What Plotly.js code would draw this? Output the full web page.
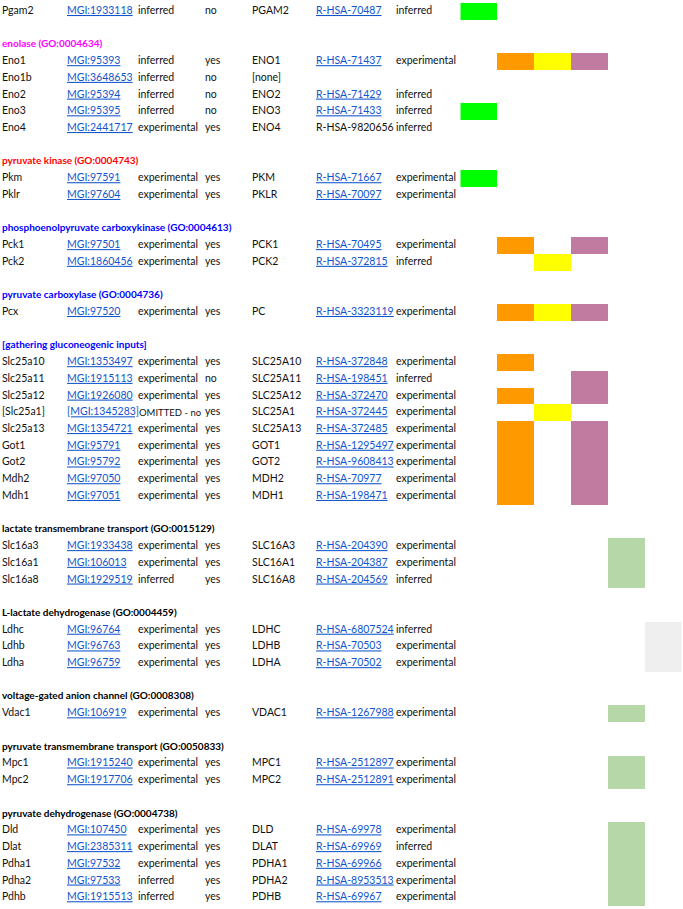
<!DOCTYPE html>
<html><head><meta charset="utf-8">
<script src="https://cdn.plot.ly/plotly-3.0.1.min.js"></script>
<style>html,body{margin:0;padding:0;background:#fff;}#chart{width:683px;height:909px;}</style>
</head><body><div id="chart"></div><script>
// ---------- data ----------
const sectionTitles = [
  '',
  'enolase (GO:0004634)',
  'pyruvate kinase (GO:0004743)',
  'phosphoenolpyruvate carboxykinase (GO:0004613)',
  'pyruvate carboxylase (GO:0004736)',
  '[gathering gluconeogenic inputs]',
  'lactate transmembrane transport (GO:0015129)',
  'L-lactate dehydrogenase (GO:0004459)',
  'voltage-gated anion channel (GO:0008308)',
  'pyruvate transmembrane transport (GO:0050833)',
  'pyruvate dehydrogenase (GO:0004738)'
];
const sectionColors = ['#000000','#FF00FF','#FF0000','#0000FF','#0000FF','#0000FF','#000000','#000000','#000000','#000000','#000000'];
const geneSection = [0,1,1,1,1,1,2,2,3,3,4,5,5,5,5,5,5,5,5,5,6,6,6,7,7,7,8,9,9,10,10,10,10,10];
const mouseGenes = ['Pgam2','Eno1','Eno1b','Eno2','Eno3','Eno4','Pkm','Pklr','Pck1','Pck2','Pcx',
  'Slc25a10','Slc25a11','Slc25a12','[Slc25a1]','Slc25a13','Got1','Got2','Mdh2','Mdh1',
  'Slc16a3','Slc16a1','Slc16a8','Ldhc','Ldhb','Ldha','Vdac1','Mpc1','Mpc2','Dld','Dlat','Pdha1','Pdha2','Pdhb'];
const mgiIds = ['MGI:1933118','MGI:95393','MGI:3648653','MGI:95394','MGI:95395','MGI:2441717','MGI:97591','MGI:97604','MGI:97501','MGI:1860456','MGI:97520',
  'MGI:1353497','MGI:1915113','MGI:1926080','[MGI:1345283]','MGI:1354721','MGI:95791','MGI:95792','MGI:97050','MGI:97051',
  'MGI:1933438','MGI:106013','MGI:1929519','MGI:96764','MGI:96763','MGI:96759','MGI:106919','MGI:1915240','MGI:1917706','MGI:107450','MGI:2385311','MGI:97532','MGI:97533','MGI:1915513'];
const mouseEvidence = ['inferred','inferred','inferred','inferred','inferred','experimental','experimental','experimental','experimental','experimental','experimental',
  'experimental','experimental','experimental','OMITTED - no e','experimental','experimental','experimental','experimental','experimental',
  'experimental','experimental','inferred','experimental','experimental','experimental','experimental','experimental','experimental','experimental','experimental','experimental','inferred','inferred'];
const orthologous = ['no','yes','no','no','no','yes','yes','yes','yes','yes','yes',
  'yes','no','yes','yes','yes','yes','yes','yes','yes',
  'yes','yes','yes','yes','yes','yes','yes','yes','yes','yes','yes','yes','yes','yes'];
const humanGenes = ['PGAM2','ENO1','[none]','ENO2','ENO3','ENO4','PKM','PKLR','PCK1','PCK2','PC',
  'SLC25A10','SLC25A11','SLC25A12','SLC25A1','SLC25A13','GOT1','GOT2','MDH2','MDH1',
  'SLC16A3','SLC16A1','SLC16A8','LDHC','LDHB','LDHA','VDAC1','MPC1','MPC2','DLD','DLAT','PDHA1','PDHA2','PDHB'];
const reactomeIds = ['R-HSA-70487','R-HSA-71437','','R-HSA-71429','R-HSA-71433','R-HSA-9820656','R-HSA-71667','R-HSA-70097','R-HSA-70495','R-HSA-372815','R-HSA-3323119',
  'R-HSA-372848','R-HSA-198451','R-HSA-372470','R-HSA-372445','R-HSA-372485','R-HSA-1295497','R-HSA-9608413','R-HSA-70977','R-HSA-198471',
  'R-HSA-204390','R-HSA-204387','R-HSA-204569','R-HSA-6807524','R-HSA-70503','R-HSA-70502','R-HSA-1267988','R-HSA-2512897','R-HSA-2512891','R-HSA-69978','R-HSA-69969','R-HSA-69966','R-HSA-8953513','R-HSA-69967'];
const reactomeUnlinked = ['R-HSA-9820656'];
const humanEvidence = ['inferred','experimental','','inferred','inferred','inferred','experimental','experimental','experimental','inferred','experimental',
  'experimental','inferred','experimental','experimental','experimental','experimental','experimental','experimental','experimental',
  'experimental','experimental','inferred','inferred','experimental','experimental','experimental','experimental','experimental','experimental','inferred','experimental','experimental','experimental'];
// coloured flag columns (genes marked in each column)
const greenGenes = ['Pgam2','Eno3','Pkm'];
const orangeGenes = ['Eno1','Pck1','Pcx','Slc25a10','Slc25a12','Slc25a13','Got1','Got2','Mdh2','Mdh1'];
const yellowGenes = ['Eno1','Pck2','Pcx','[Slc25a1]'];
const purpleGenes = ['Eno1','Pck1','Pcx','Slc25a11','Slc25a12','Slc25a13','Got1','Got2','Mdh2','Mdh1'];
const lightGreenGenes = ['Slc16a3','Slc16a1','Slc16a8','Vdac1','Mpc1','Mpc2','Dld','Dlat','Pdha1','Pdha2','Pdhb'];
const grayGenes = ['Ldhc','Ldhb','Ldha'];

// ---------- layout constants ----------
const colX = [2, 67, 138, 205, 252, 316, 396];
const flagEdges = [460.5, 497.5, 534.5, 571, 607.5, 644.5, 681.5];
const flagColors = ['#00FF00','#FF9900','#FFFF00','#C27BA0','#B6D7A8','#EFEFEF'];
const linkColor = '#1155CC';
const textColor = '#111111';
const FONT = 'Lato, "Open Sans", sans-serif';
const FSIZE = 10.5;
const HSIZE = 10;

// ---------- row assignment ----------
const geneRow = [];
const headerRow = [], headerText = [], headerColor = [];
let r = 0, prev = -1;
geneSection.forEach((s, i) => {
  if (s !== prev) {
    if (i > 0) r += 1; // blank spacer
    if (sectionTitles[s]) {
      headerRow.push(r); headerText.push(sectionTitles[s]); headerColor.push(sectionColors[s]);
      r += 1;
    }
    prev = s;
  }
  geneRow.push(r);
  r += 1;
});
const nRows = r;

const traces = [];
// flag heatmap
const flagLists = [greenGenes, orangeGenes, yellowGenes, purpleGenes, lightGreenGenes, grayGenes];
const z = [];
for (let k = 0; k < nRows; k++) z.push(new Array(flagLists.length).fill(null));
mouseGenes.forEach((g, i) => {
  flagLists.forEach((lst, c) => { if (lst.includes(g)) z[geneRow[i]][c] = c; });
});
const yRows = Array.from({length: nRows}, (_, k) => k);
const cs = [];
flagColors.forEach((col, c) => {
  cs.push([c / flagColors.length, col]);
  cs.push([(c + 1) / flagColors.length, col]);
});
traces.push({
  type: 'heatmap', x: flagEdges, y: yRows, z: z,
  zmin: -0.5, zmax: flagColors.length - 0.5, colorscale: cs,
  showscale: false, hoverinfo: 'skip', xgap: 0, ygap: 0
});

function textTrace(x, ys, texts, colors, weight, size) {
  return {
    type: 'scatter', mode: 'text', x: ys.map(() => x), y: ys, text: texts,
    textposition: 'middle right', cliponaxis: false, hoverinfo: 'skip',
    textfont: {family: FONT, size: size || FSIZE, color: colors, weight: weight || 'normal'}
  };
}
const u = s => s ? '<u>' + s + '</u>' : '';
const fitsCell = s => s.length <= 12;
traces.push(textTrace(colX[0], headerRow, headerText, headerColor, 'bold', HSIZE));
traces.push(textTrace(colX[0], geneRow, mouseGenes, textColor));
traces.push(textTrace(colX[1], geneRow, mgiIds.map(u), linkColor));
traces.push(textTrace(colX[2], geneRow, mouseEvidence.map(s => fitsCell(s) ? s : ''), textColor));
traces.push(textTrace(colX[3], geneRow, orthologous, textColor));
traces.push(textTrace(colX[4], geneRow, humanGenes, textColor));
traces.push(textTrace(colX[5], geneRow, reactomeIds.map(s => reactomeUnlinked.includes(s) ? s : u(s)),
  reactomeIds.map(s => reactomeUnlinked.includes(s) ? textColor : linkColor)));
traces.push(textTrace(colX[6], geneRow, humanEvidence, textColor));

// overflowing cell text is clipped at the cell border, like in the spreadsheet
const annotations = [];
mouseEvidence.forEach((s, i) => {
  if (!fitsCell(s)) {
    annotations.push({
      x: colX[2], y: geneRow[i], xref: 'x', yref: 'y', xanchor: 'left', yanchor: 'middle',
      text: s, showarrow: false, align: 'left', borderpad: 0,
      width: colX[3] - colX[2] - 3,
      font: {family: FONT, size: 9.5, color: textColor}
    });
  }
});

const layout = {
  width: 683, height: 909,
  margin: {l: 0, r: 0, t: 3, b: 3, pad: 0},
  paper_bgcolor: '#FFFFFF', plot_bgcolor: '#FFFFFF',
  showlegend: false,
  xaxis: {range: [0, 683], visible: false, fixedrange: true},
  yaxis: {range: [nRows - 0.5, -0.5], visible: false, fixedrange: true},
  font: {family: FONT, size: FSIZE, color: textColor},
  annotations: annotations
};
Plotly.newPlot('chart', traces, layout, {displayModeBar: false, staticPlot: true});
</script></body></html>
